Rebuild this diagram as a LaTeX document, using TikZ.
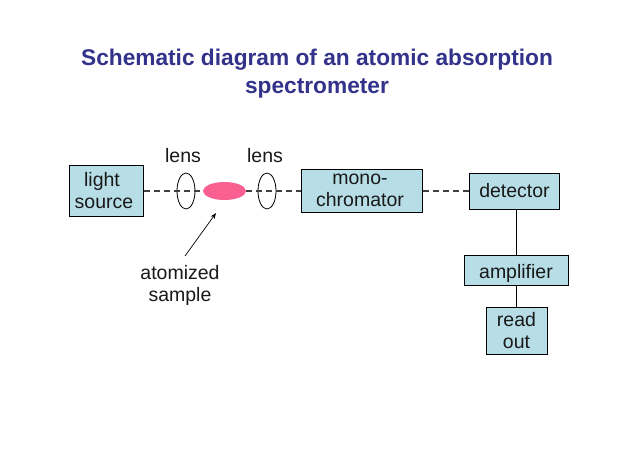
\documentclass[tikz,border=0pt]{standalone}
\usepackage{fontspec}
\setmainfont{Liberation Sans}
\usetikzlibrary{shapes.geometric,arrows.meta}
\definecolor{boxblue}{RGB}{183,221,230}
\definecolor{titleblue}{RGB}{51,51,140}
\definecolor{samplepink}{RGB}{250,95,145}
\definecolor{inkdark}{RGB}{25,25,25}
\newcommand\dropdown[2]{\raisebox{0pt}[\dimexpr\height+#1\relax][\depth]{#2}}
\tikzset{
  x=1pt,y=-1pt,
  boxnode/.style={draw=black,line width=1pt,fill=boxblue,inner sep=0pt,align=center,text=inkdark,
    font=\fontsize{19.5}{21.5}\selectfont},
  plaintext/.style={inner sep=0pt,align=center,text=inkdark,font=\fontsize{19.5}{22}\selectfont},
  lensnode/.style={draw=black,line width=0.8pt,ellipse,inner sep=0pt,minimum width=18pt,minimum height=36pt},
  beam/.style={dash pattern=on 6pt off 4pt,draw=black!75,line width=1.1pt},
  wire/.style={draw=black,line width=1pt},
  titletext/.style={inner sep=0pt,align=center,text=titleblue,font=\fontsize{22.7}{28}\selectfont\bfseries}
}
\begin{document}
\begin{tikzpicture}
\useasboundingbox (0,0) rectangle (638,451);
\fill[white] (0,0) rectangle (638,451);
\node[titletext] (title) at (317,74) {Schematic diagram of an atomic absorption\\spectrometer};
\node[boxnode,minimum width=74pt,minimum height=51pt] (source) at (106,190.5) {light\hspace*{8pt}\\source\hspace*{4pt}};
\node[boxnode,minimum width=121pt,minimum height=43pt] (mono) at (361.5,190.5) {mono-\hspace*{3pt}\\chromator\hspace*{3pt}};
\node[boxnode,minimum width=90pt,minimum height=36pt] (detector) at (514,191) {\hspace*{1pt}detector};
\node[boxnode,minimum width=104pt,minimum height=30pt] (amplifier) at (516,270) {\dropdown{7pt}{amplifier}};
\node[boxnode,minimum width=61pt,minimum height=47pt] (readout) at (516.5,330.5) {read\\out};
\node[lensnode] (lensa) at (186,191) {};
\node[lensnode] (lensb) at (267,191) {};
\node[ellipse,fill=samplepink,inner sep=0pt,minimum width=43pt,minimum height=18pt] (sample) at (224.5,191) {};
\node[plaintext] (lensalabel) at (183,156) {lens};
\node[plaintext] (lensblabel) at (265,156) {lens};
\node[plaintext] (samplelabel) at (180,285) {atomized\\sample};
\coordinate (arrowtail) at (185,256);
\coordinate (arrowhead) at (216,213);
\coordinate (wirex) at (516.5,0);
\draw[beam] (source.east |- sample.center) -- (sample.west);
\draw[beam] (sample.east) -- (mono.west |- sample.center);
\draw[beam] (mono.east |- detector.west) -- (detector.west);
\draw[wire] (wirex |- detector.south) -- (wirex |- amplifier.north);
\draw[wire] (wirex |- amplifier.south) -- (readout.north);
\draw[line width=0.7pt,-{Stealth[length=6pt,width=4.5pt]}] (arrowtail) -- (arrowhead);
\end{tikzpicture}
\end{document}
